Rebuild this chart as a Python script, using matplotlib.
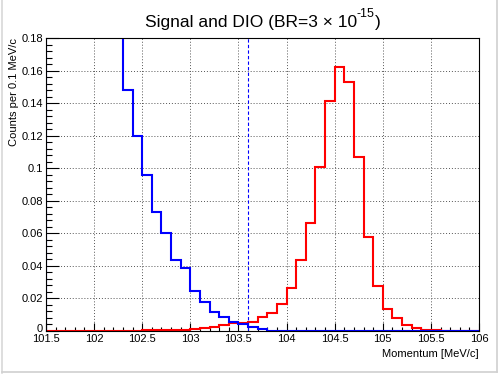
import numpy as np
import matplotlib.pyplot as plt
import matplotlib.transforms as mtransforms
from matplotlib.ticker import MultipleLocator
from matplotlib.lines import Line2D

plt.rcParams['font.family'] = ['Liberation Sans', 'DejaVu Sans']

# bin edges: 0.1 MeV/c bins from 101.5 to 106
bin_lo = 101.5
bin_hi = 106.0
n_bins = 45

# DIO (blue), first bins go off scale
dio = [0.60, 0.52, 0.45, 0.39, 0.33, 0.28, 0.23, 0.19,
       0.148, 0.120, 0.096, 0.073, 0.060, 0.0436, 0.0385, 0.0246, 0.018,
       0.0117, 0.0088, 0.0053, 0.0043, 0.0023, 0.0012, 0.0003, 0.0002,
       0.0001, 0.0001, 0.0001, 0.0001, 0.0001, 0.0001, 0.0001, 0.0001, 0.0001, 0.0001,
       0.0001, 0.0001, 0.0001, 0.0001, 0.0001, 0.0001, 0.0001, 0.0001, 0.0001, 0.0001]

# signal (red)
signal = [0.0002, 0.0002, 0.0002, 0.0002, 0.0002, 0.0003, 0.0003, 0.0003, 0.0003, 0.0003,
          0.0005, 0.0005, 0.0006, 0.0007, 0.0008,
          0.0010, 0.0018, 0.0026, 0.0035, 0.0047,
          0.0047, 0.0057, 0.0084, 0.0112, 0.0166,
          0.0262, 0.0438, 0.0663, 0.101, 0.141,
          0.162, 0.153, 0.107, 0.058, 0.0276,
          0.0133, 0.0078, 0.0036, 0.0020, 0.0008,
          0.0004, 0.0003, 0.0002, 0.0001, 0.0001]

cut = 103.6

x_ticks = [101.5, 102, 102.5, 103, 103.5, 104, 104.5, 105, 105.5, 106]
y_ticks = [0, 0.02, 0.04, 0.06, 0.08, 0.1, 0.12, 0.14, 0.16, 0.18]

edges = np.linspace(bin_lo, bin_hi, n_bins + 1)

fig = plt.figure(figsize=(4.98, 3.74), dpi=100)
ax = fig.add_axes([46/498, 1 - 331/374, 433/498, 293/374])

ax.stairs(signal, edges, color='#ff0000', linewidth=1.5)
ax.stairs(dio, edges, color='#0000ff', linewidth=1.5)
ax.axvline(cut, color='#0000ff', linestyle=(0, (3, 2)), linewidth=0.8)

ax.set_xlim(bin_lo, bin_hi)
ax.set_ylim(0, 0.18)

ax.set_xticks(x_ticks)
ax.set_xticklabels([f'{v:g}' for v in x_ticks])
ax.set_yticks(y_ticks)
ax.set_yticklabels([f'{v:g}' for v in y_ticks])
ax.xaxis.set_minor_locator(MultipleLocator(0.1))
ax.yaxis.set_minor_locator(MultipleLocator(0.004))

ax.tick_params(axis='x', which='major', direction='in', length=6, width=0.8, labelsize=8, pad=2)
ax.tick_params(axis='x', which='minor', direction='in', length=3, width=0.8)
ax.tick_params(axis='y', which='major', direction='in', length=9, width=0.8, labelsize=8, pad=2)
ax.tick_params(axis='y', which='minor', direction='in', length=4.5, width=0.8)

# lift the "0" a little so it sits above 101.5 like in ROOT
zero_lbl = ax.get_yticklabels()[0]
zero_lbl.set_transform(zero_lbl.get_transform() +
                       mtransforms.ScaledTranslation(0, 3/100, fig.dpi_scale_trans))

ax.grid(True, which='major', color='#555555', linestyle=(0, (1, 2)), linewidth=0.7)
ax.set_axisbelow(True)
for s in ax.spines.values():
    s.set_linewidth(0.8)

ax.set_xlabel('Momentum [MeV/c]', fontsize=8, loc='right', labelpad=4)
ax.set_ylabel('Counts per 0.1 MeV/c', fontsize=8, loc='top', labelpad=2)

# title: main text, raised exponent, closing bracket
fig.canvas.draw()
r = fig.canvas.get_renderer()
title_y = 1 - 22/374
t1 = fig.text(0, title_y, 'Signal and DIO (BR=3 \u00d7 10', ha='left', va='center', fontsize=12.5)
t2 = fig.text(0, title_y + 0.022, '-15', ha='left', va='center', fontsize=9)
t3 = fig.text(0, title_y, ')', ha='left', va='center', fontsize=12.5)
w1 = t1.get_window_extent(r).width
w2 = t2.get_window_extent(r).width
w3 = t3.get_window_extent(r).width
total = w1 + w2 + w3
x0 = 262.5 - total / 2
t1.set_x(x0 / 498)
t2.set_x((x0 + w1) / 498)
t3.set_x((x0 + w1 + w2) / 498)

# canvas frame
fig.add_artist(Line2D([0.004, 0.004], [0.003, 1], transform=fig.transFigure, color='#d8d8d8', lw=1.2))
fig.add_artist(Line2D([0.004, 0.997], [0.005, 0.005], transform=fig.transFigure, color='#d0d0d0', lw=1.2))
fig.add_artist(Line2D([0.997, 0.997], [0.005, 1], transform=fig.transFigure, color='#d0d0d0', lw=1.2))

fig.savefig('out.png', dpi=100)
